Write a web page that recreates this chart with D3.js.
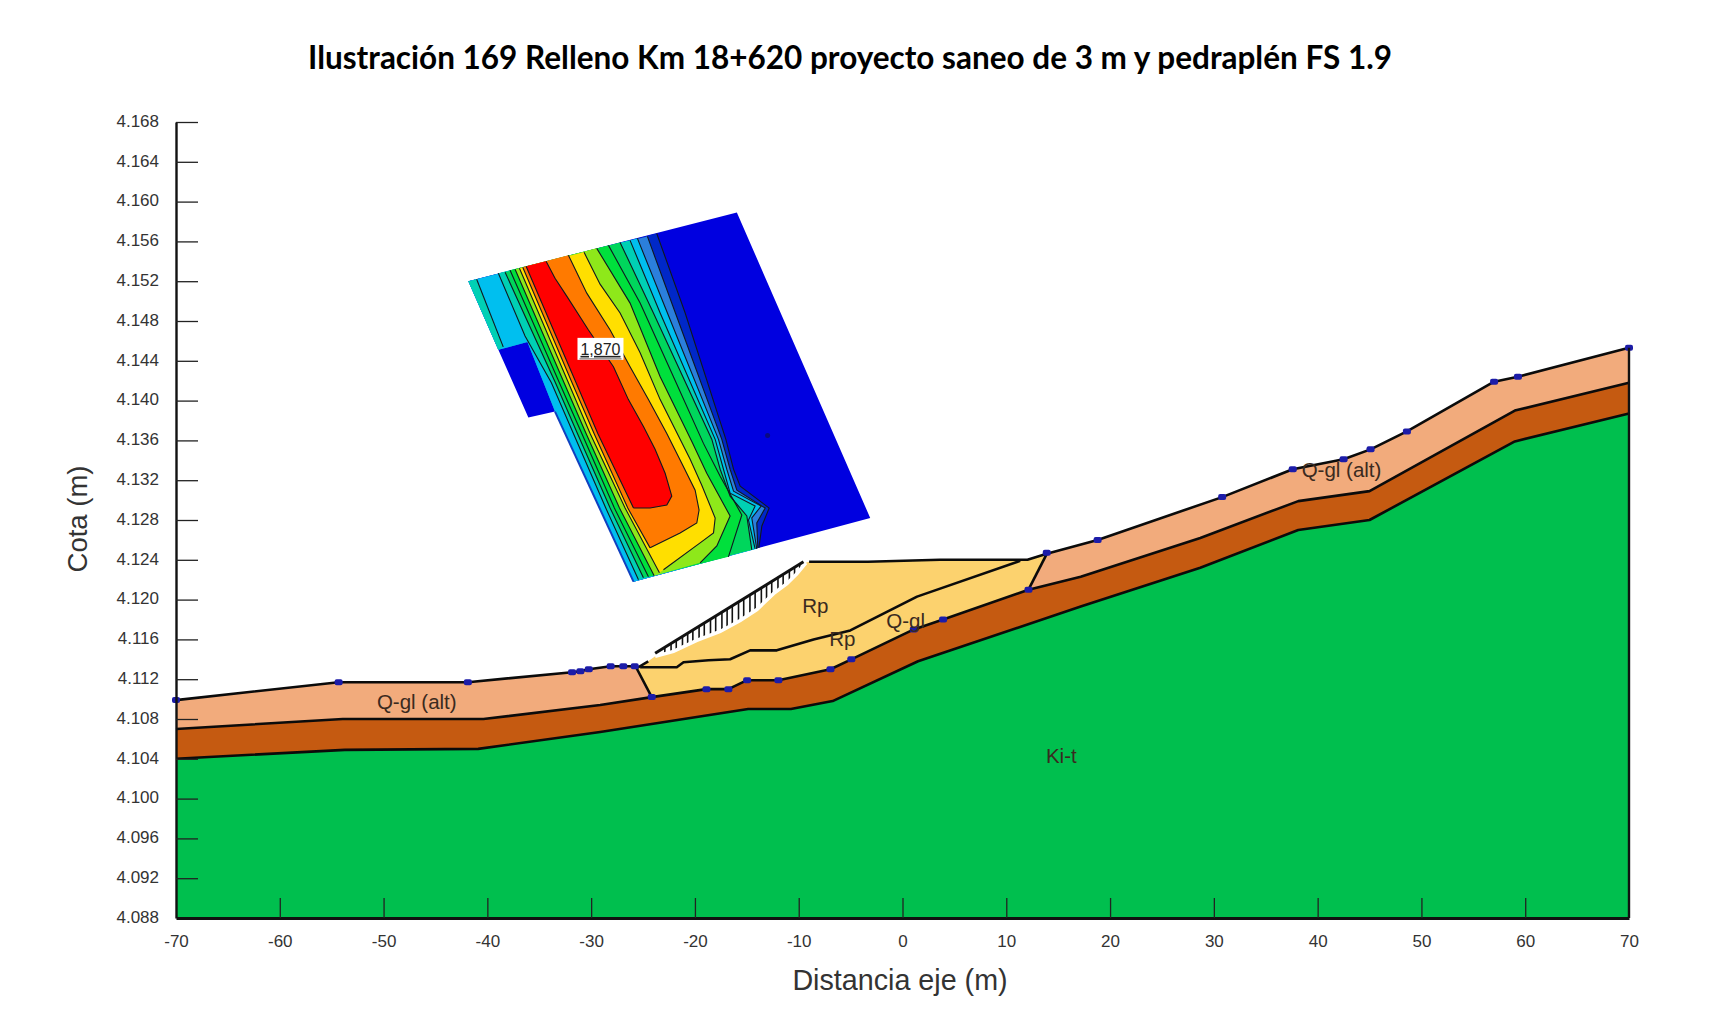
<!DOCTYPE html>
<html>
<head>
<meta charset="utf-8">
<script src="https://cdn.jsdelivr.net/npm/d3@7"></script>
<style>
  html, body { margin: 0; background: #fff; }
  text { font-family: "Liberation Sans", Arial, sans-serif; }
  .title { font-family: Lato, "Noto Sans", sans-serif; font-weight: 700; }
</style>
</head>
<body>
<svg id="chart" width="1723" height="1033"></svg>
<script>
// titulos y ejes
const titleText = "Ilustración 169 Relleno Km 18+620 proyecto saneo de 3 m y pedraplén FS 1.9";
const xLabel = "Distancia eje (m)";
const yLabel = "Cota (m)";
const xTicks = [-70, -60, -50, -40, -30, -20, -10, 0, 10, 20, 30, 40, 50, 60, 70];
const yTicks = [4.088, 4.092, 4.096, 4.100, 4.104, 4.108, 4.112, 4.116, 4.120, 4.124, 4.128,
    4.132, 4.136, 4.140, 4.144, 4.148, 4.152, 4.156, 4.160, 4.164, 4.168];

// capas del terreno [distancia, cota]
const groundLeft = [[-70, 4.1099], [-54.33, 4.1117], [-41.88, 4.1117], [-31.84, 4.1127], [-31.04, 4.1128],
    [-30.23, 4.1130], [-28.12, 4.1133], [-25.62, 4.1133]];
const groundRight = [[13.9, 4.1246], [18.8, 4.1260], [30.8, 4.1303], [37.6, 4.1331], [42.5, 4.1341],
    [45.1, 4.1351], [48.6, 4.1369], [57, 4.1419], [59.3, 4.1424], [70, 4.1453]];
const brownTop = [[-70, 4.1070], [-53.93, 4.1080], [-40.38, 4.1080], [-29.13, 4.1094], [-24.16, 4.1102],
    [-18.89, 4.1110], [-16.78, 4.1110], [-14.97, 4.1119], [-11.96, 4.1119], [-6.94, 4.1130], [-4.93, 4.1140],
    [1.09, 4.1170], [3.91, 4.1180], [12.14, 4.1210], [17.17, 4.1223], [28.69, 4.1262], [38.13, 4.1299],
    [45, 4.1309], [59, 4.1390], [70, 4.1418]];
const kiTop = [[-70, 4.1040], [-53.73, 4.1049], [-40.88, 4.1050], [-29.13, 4.1067], [-14.87, 4.1090],
    [-10.75, 4.1090], [-6.73, 4.1098], [1.5, 4.1138], [17.17, 4.1193], [28.69, 4.1232], [38.13, 4.1270],
    [45, 4.1280], [59, 4.1359], [70, 4.1387]];

// relleno (pedraplen)
const fillArc = [[-23.83, 4.1143], [-22.07, 4.1148], [-19.82, 4.1159], [-17.57, 4.1168], [-15.64, 4.1179],
    [-14.03, 4.1190], [-12.43, 4.1206], [-11.14, 4.1216], [-10.18, 4.1226], [-9.31, 4.1237]];
const fillTop = [[-9, 4.1238], [-3.33, 4.1238], [3.6, 4.1240], [12.04, 4.1240], [13.9, 4.1246]];
const fillSide = [[13.9, 4.1246], [12.14, 4.1210]];
const fillBase = [[12.14, 4.1210], [3.91, 4.1180], [1.09, 4.1170], [-4.93, 4.1140], [-6.94, 4.1130],
    [-11.96, 4.1119], [-14.97, 4.1119], [-16.78, 4.1110], [-18.89, 4.1110], [-24.16, 4.1102]];
const fillLeft = [[-24.16, 4.1102], [-25.62, 4.1131], [-24.5, 4.1138]];
const fillInner = [[-25.28, 4.1132], [-21.75, 4.1132], [-21.10, 4.1137], [-18.69, 4.1139], [-16.61, 4.1140],
    [-14.68, 4.1149], [-12.11, 4.1149], [-8.57, 4.1160], [-5.03, 4.1169], [1.4, 4.1203], [11.34, 4.1239]];

// rayado del talud
const hatchChord = [[-23.83, 4.1146], [-9.54, 4.1238]];
const hatchX = [-22.9, -22.3, -21.8, -21.2, -20.7, -20.2, -19.6, -19.1, -18.5, -18.0, -17.4, -16.9, -16.4,
    -15.8, -15.3, -14.7, -14.2, -13.6, -13.1, -12.6, -12.0, -11.5, -10.9, -10.4, -9.9];

// vertices
const vertexPoints = [[-70, 4.1099], [-54.33, 4.1117], [-41.88, 4.1117], [-31.84, 4.1127], [-31.04, 4.1128],
    [-30.23, 4.1130], [-28.12, 4.1133], [-26.9, 4.1133], [-25.8, 4.1133], [-24.16, 4.1102], [-18.89, 4.1110],
    [-16.78, 4.1110], [-14.97, 4.1119], [-11.96, 4.1119], [-6.94, 4.1130], [-4.93, 4.1140], [1.09, 4.1170],
    [3.91, 4.1180], [12.14, 4.1210], [13.9, 4.1247], [18.8, 4.1260], [30.8, 4.1303], [37.6, 4.1331],
    [42.5, 4.1341], [45.1, 4.1351], [48.6, 4.1369], [57, 4.1419], [59.3, 4.1424], [70, 4.1453]];

// rejilla de factores de seguridad
const gridOutline = [[-41.83, 4.1520], [-15.96, 4.1589], [-3.11, 4.1282], [-25.92, 4.1218],
    [-33.48, 4.1389], [-36.05, 4.1383], [-38.94, 4.1451]];
const gridLeft = [[-25.92, 4.1218], [-33.48, 4.1389], [-36.14, 4.1459], [-38.94, 4.1451], [-41.83, 4.1520]];
const gridEdge = [[-25.92, 4.1218], [-33.48, 4.1389]];
const tealStrip = [[-41.83, 4.1520], [-41.03, 4.1522], [-38.47, 4.1454], [-38.94, 4.1451]];

const r1 = [[-23.68, 4.1568], [-20.94, 4.1488], [-17.02, 4.1361], [-16.28, 4.1331], [-15.64, 4.1314], [-12.85, 4.1292], [-13.55, 4.1274], [-13.84, 4.1252]];
const r2 = [[-24.58, 4.1565], [-21.88, 4.1488], [-17.41, 4.1361], [-16.61, 4.1331], [-15.96, 4.1310], [-13.23, 4.1292], [-14.04, 4.1277], [-13.94, 4.1252]];
const r3 = [[-25.54, 4.1563], [-22.65, 4.1488], [-17.73, 4.1361], [-16.93, 4.1331], [-16.28, 4.1309], [-13.62, 4.1294], [-14.52, 4.1282], [-14.04, 4.1251]];
const r4 = [[-26.25, 4.1561], [-23.35, 4.1488], [-18.05, 4.1361], [-17.25, 4.1331], [-16.61, 4.1307], [-14.20, 4.1294], [-14.84, 4.1280], [-14.20, 4.1251]];
const r5 = [[-27.21, 4.1559], [-24.00, 4.1488], [-18.37, 4.1361], [-17.57, 4.1331], [-16.61, 4.1304], [-15.00, 4.1284], [-14.52, 4.1250]];
const r6 = [[-28.33, 4.1556], [-25.28, 4.1498], [-22.07, 4.1424], [-19.18, 4.1357], [-17.57, 4.1324], [-15.48, 4.1285], [-16.77, 4.1243]];
const r7 = [[-29.46, 4.1553], [-26.25, 4.1498], [-23.35, 4.1424], [-20.30, 4.1359], [-18.86, 4.1327], [-16.61, 4.1284], [-17.89, 4.1254], [-19.50, 4.1237]];
const r8 = [[-30.68, 4.1549], [-29.14, 4.1517], [-27.21, 4.1488], [-25.28, 4.1448], [-23.35, 4.1401], [-20.46, 4.1341], [-19.34, 4.1315], [-18.05, 4.1282], [-18.21, 4.1267], [-19.50, 4.1257], [-23.03, 4.1230]];
const r9 = [[-32.19, 4.1546], [-30.42, 4.1508], [-28.17, 4.1471], [-26.25, 4.1434], [-24.48, 4.1401], [-22.71, 4.1367], [-21.27, 4.1337], [-19.98, 4.1310], [-19.60, 4.1290], [-19.82, 4.1277], [-21.43, 4.1267], [-24.32, 4.1252]];
const r10 = [[-34.34, 4.1540], [-33.48, 4.1523], [-32.35, 4.1505], [-30.26, 4.1471], [-27.85, 4.1434], [-26.41, 4.1401], [-24.96, 4.1374], [-23.84, 4.1351], [-22.87, 4.1327], [-22.23, 4.1304], [-22.71, 4.1295], [-24.32, 4.1292], [-25.92, 4.1292]];

const l4 = [[-25.44, 4.1220], [-28.59, 4.1292], [-31.71, 4.1367], [-33.83, 4.1418], [-36.37, 4.1465], [-38.94, 4.1528]];
const l5 = [[-24.96, 4.1222], [-28.17, 4.1292], [-31.32, 4.1367], [-33.44, 4.1418], [-38.29, 4.1529]];
const l6 = [[-24.48, 4.1223], [-27.76, 4.1292], [-30.90, 4.1367], [-33.06, 4.1418], [-37.81, 4.1531]];
const l7 = [[-23.93, 4.1224], [-27.27, 4.1292], [-30.49, 4.1367], [-32.61, 4.1418], [-37.33, 4.1532]];
const l8 = [[-23.42, 4.1227], [-26.73, 4.1292], [-30.10, 4.1367], [-32.19, 4.1418], [-36.91, 4.1533]];
const l9 = [[-24.32, 4.1252], [-26.47, 4.1292], [-29.72, 4.1367], [-31.84, 4.1418], [-36.59, 4.1534]];
const l10 = [[-25.92, 4.1292], [-29.36, 4.1367], [-31.45, 4.1418], [-36.27, 4.1535]];

const bandRight = [r1, r2, r3, r4, r5, r6, r7, r8, r9, r10];
const bandLeft = [gridLeft, gridLeft, gridLeft, l4, l5, l6, l7, l8, l9, l10];
const bandColors = ["#0028c8", "#2b7fdc", "#00bfef", "#00d0b4", "#00d65c", "#00e03c", "#8ee81a", "#ffdf00", "#ff7a00", "#ff0000"];

// etiquetas de materiales
const soilNames = ["Rp", "Rp", "Q-gl", "Q-gl (alt)", "Q-gl (alt)", "Ki-t"];
const soilX = [-8.4, -5.8, 0.3, -46.8, 42.3, 15.3];
const soilY = [4.1194, 4.1161, 4.1179, 4.1098, 4.1331, 4.1043];
const minFs = "1,870";
const minFsPos = [-29.1, 4.1452];
const gridCenter = [-13, 4.1365];

const svg = d3.select("#chart");
const x = d3.scaleLinear().domain([-70, 70]).range([176, 1629]);
const y = d3.scaleLinear().domain([4.088, 4.168]).range([918, 122]);

const line = d3.line().x(d => x(d[0])).y(d => y(d[1]));
const areaDown = d3.area().x(d => x(d[0])).y1(d => y(d[1])).y0(y(4.088));

// terreno: de arriba abajo, cada capa tapa a la anterior
const groundAll = groundLeft.concat(groundRight);
svg.append("path").attr("d", areaDown(groundAll)).attr("fill", "#f2ab7c");
svg.append("path")
    .attr("d", line(fillArc.concat(fillTop, fillBase, fillLeft.slice(1))) + "Z")
    .attr("fill", "#fcd26e");
svg.append("path").attr("d", areaDown(brownTop)).attr("fill", "#c55a11");
svg.append("path").attr("d", areaDown(kiTop)).attr("fill", "#00bf4e");

// rayado
const chordScale = d3.scaleLinear().domain(hatchChord.map(d => d[0])).range(hatchChord.map(d => d[1]));
const arcScale = d3.scaleLinear().domain(fillArc.map(d => d[0])).range(fillArc.map(d => d[1]));
svg.append("g").selectAll("line").data(hatchX).enter().append("line")
    .attr("x1", d => x(d)).attr("x2", d => x(d))
    .attr("y1", d => y(chordScale(d))).attr("y2", d => y(arcScale(d)))
    .attr("stroke", "#111").attr("stroke-width", 1.6);
svg.append("path").attr("d", line(fillArc)).attr("fill", "none").attr("stroke", "#fff").attr("stroke-width", 3.5);
svg.append("path").attr("d", line(hatchChord)).attr("fill", "none").attr("stroke", "#111").attr("stroke-width", 3);

// lineas de contacto
const contacts = [groundLeft, groundRight, brownTop, kiTop, fillTop, fillSide, fillLeft, fillInner];
svg.append("g").selectAll("path").data(contacts).enter().append("path")
    .attr("d", line).attr("fill", "none")
    .attr("stroke", "#0b0b0b").attr("stroke-width", 2.6).attr("stroke-linejoin", "round");

// vertices
svg.append("g").selectAll("rect").data(vertexPoints).enter().append("rect")
    .attr("x", d => x(d[0]) - 4).attr("y", d => y(d[1]) - 3)
    .attr("width", 8).attr("height", 6).attr("rx", 2)
    .attr("fill", "#1c1ca8");

// rejilla de FS
const gridG = svg.append("g");
gridG.append("path").attr("d", line(gridOutline) + "Z").attr("fill", "#0000e0");
bandRight.forEach((right, i) => {
    gridG.append("path")
        .attr("d", line(right.concat(bandLeft[i])) + "Z")
        .attr("fill", bandColors[i]);
});
gridG.append("path").attr("d", line(tealStrip) + "Z").attr("fill", "#00d0b4");
gridG.append("path").attr("d", line(gridEdge)).attr("fill", "none").attr("stroke", "#1040c0").attr("stroke-width", 2);
const contourLines = bandRight.concat(bandLeft.slice(3), [[tealStrip[1], tealStrip[2]]]);
gridG.selectAll(".contour").data(contourLines).enter().append("path")
    .attr("class", "contour").attr("d", line).attr("fill", "none")
    .attr("stroke", "#101820").attr("stroke-width", 1.1);
gridG.append("circle").attr("cx", x(gridCenter[0])).attr("cy", y(gridCenter[1])).attr("r", 2.5).attr("fill", "#0a0a80");

// etiqueta del minimo
const minG = svg.append("g").attr("transform", `translate(${x(minFsPos[0])},${y(minFsPos[1])})`);
minG.append("rect").attr("x", -23).attr("y", -11).attr("width", 46).attr("height", 22).attr("fill", "#fff");
minG.append("line").attr("x1", -21).attr("x2", 21).attr("y1", 10).attr("y2", 10).attr("stroke", "#666");
minG.append("text").attr("text-anchor", "middle").attr("y", 6).attr("font-size", 16)
    .attr("fill", "#222").attr("text-decoration", "underline").text(minFs);

// materiales
svg.append("g").selectAll("text").data(soilNames).enter().append("text")
    .attr("x", (d, i) => x(soilX[i])).attr("y", (d, i) => y(soilY[i]))
    .attr("text-anchor", "middle").attr("dominant-baseline", "central")
    .attr("font-size", 20.5).attr("fill", "#3a2a20").text(d => d);

// ejes
const xAxis = d3.axisBottom(x).tickValues(xTicks).tickFormat(d => String(d))
    .tickSizeInner(-20).tickSizeOuter(0).tickPadding(17);
const yAxis = d3.axisLeft(y).tickValues(yTicks).tickFormat(d3.format(".3f"))
    .tickSizeInner(-22).tickSizeOuter(0).tickPadding(17);
const gx = svg.append("g").attr("transform", `translate(0,${y(4.088)})`).call(xAxis);
const gy = svg.append("g").attr("transform", `translate(${x(-70)},0)`).call(yAxis);
[gx, gy].forEach(g => {
    g.selectAll("text").attr("font-size", 17).attr("fill", "#333").attr("font-family", '"Liberation Sans", Arial, sans-serif');
    g.selectAll(".tick line").attr("stroke", "#222").attr("stroke-width", 1.3);
});
gy.selectAll("text").attr("dy", "0.25em");
gx.select(".domain").attr("stroke", "#111").attr("stroke-width", 2.8);
gy.select(".domain").attr("stroke", "#111").attr("stroke-width", 2.4);
gx.selectAll(".tick line").filter(d => d === -70 || d === 70).remove();
gy.selectAll(".tick line").filter(d => d === 4.088).remove();

// borde derecho
svg.append("line").attr("x1", x(70)).attr("x2", x(70)).attr("y1", y(4.1453)).attr("y2", y(4.088))
    .attr("stroke", "#111").attr("stroke-width", 2.4);

// titulos
svg.append("text").attr("class", "title").attr("x", 850).attr("y", 69)
    .attr("text-anchor", "middle").attr("font-size", 31.5).attr("fill", "#000").text(titleText);
svg.append("text").attr("x", 900).attr("y", 990).attr("text-anchor", "middle")
    .attr("font-size", 28.7).attr("fill", "#333").text(xLabel);
svg.append("text").attr("transform", "translate(87,519) rotate(-90)").attr("text-anchor", "middle")
    .attr("font-size", 27.5).attr("fill", "#333").text(yLabel);
</script>
</body>
</html>
